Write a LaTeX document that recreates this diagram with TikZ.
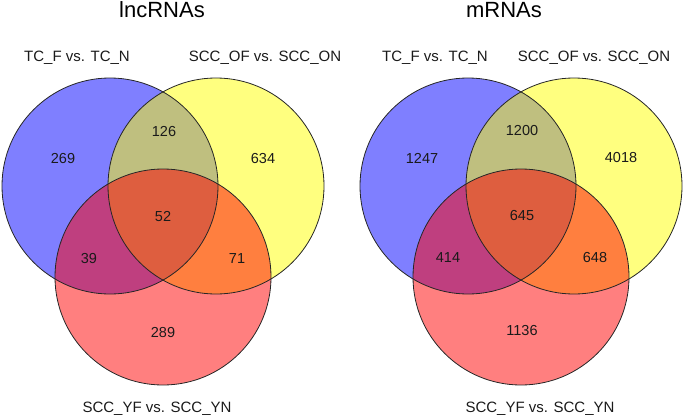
\documentclass[tikz,border=0pt]{standalone}
\usepackage{fontspec}
\setmainfont{Liberation Sans}
\usepackage{xcolor}
\usepackage{tikz}
\usetikzlibrary{positioning,calc}
\definecolor{VennBlue}{HTML}{0000FF}
\definecolor{VennYellow}{HTML}{FFFF00}
\definecolor{VennRed}{HTML}{FF0000}
\definecolor{Ink}{HTML}{1A1A1A}

\begin{document}
\begin{tikzpicture}[
    x=1pt, y=-1pt,
    venn/.style={circle, minimum size=216pt, inner sep=0pt, fill opacity=0.5},
    vennline/.style={draw=black!85, line width=0.8pt},
    title/.style={anchor=base, font=\fontsize{22}{26}\selectfont, text=black},
    setlabel/.style={anchor=base, font=\fontsize{15}{18}\selectfont, text=Ink},
    count/.style={font=\fontsize{14.5}{17}\selectfont, text=Ink, inner sep=0pt}
  ]
  \useasboundingbox (0,0) rectangle (685,415);

  % lncRNAs
  \node[venn, fill=VennBlue] (lTC) at (110,186) {};
  \node[venn, fill=VennYellow] (lOF) at (216,186) {};
  \node[venn, fill=VennRed] (lYF) at (163,277) {};

  % mRNAs
  \node[venn, fill=VennBlue] (rTC) at (468,186) {};
  \node[venn, fill=VennYellow] (rOF) at (574,186) {};
  \node[venn, fill=VennRed] (rYF) at (521,277) {};

  \foreach \c in {lTC,lOF,lYF,rTC,rOF,rYF}
    \draw[vennline] (\c.center) circle[radius=108pt];

  \node[title] (lTitle) at (162,17) {lncRNAs};
  \node[title] (rTitle) at (504,17) {mRNAs};

  \node[setlabel] (lTClab) at (77,61) {TC\_F vs. TC\_N};
  \node[setlabel] (lOFlab) at (265,61) {SCC\_OF vs. SCC\_ON};
  \node[setlabel] (lYFlab) at (157,412) {SCC\_YF vs. SCC\_YN};
  \node[setlabel] (rTClab) at (435,61) {TC\_F vs. TC\_N};
  \node[setlabel] (rOFlab) at (594,61) {SCC\_OF vs. SCC\_ON};
  \node[setlabel] (rYFlab) at (540,412) {SCC\_YF vs. SCC\_YN};

  \node[count] (lA) at (63,159) {269};
  \node[count] (lAB) at (164,132) {126};
  \node[count] (lB) at (263,159) {634};
  \node[count] (lABC) at (163,217) {52};
  \node[count] (lAC) at (89,259) {39};
  \node[count] (lBC) at (237,259) {71};
  \node[count] (lC) at (163,333) {289};

  \node[count] (rA) at (422,158) {1247};
  \node[count] (rAB) at (522,131) {1200};
  \node[count] (rB) at (621,158) {4018};
  \node[count] (rABC) at (522,216) {645};
  \node[count] (rAC) at (448,258) {414};
  \node[count] (rBC) at (595,258) {648};
  \node[count] (rC) at (522,331) {1136};
\end{tikzpicture}
\end{document}
